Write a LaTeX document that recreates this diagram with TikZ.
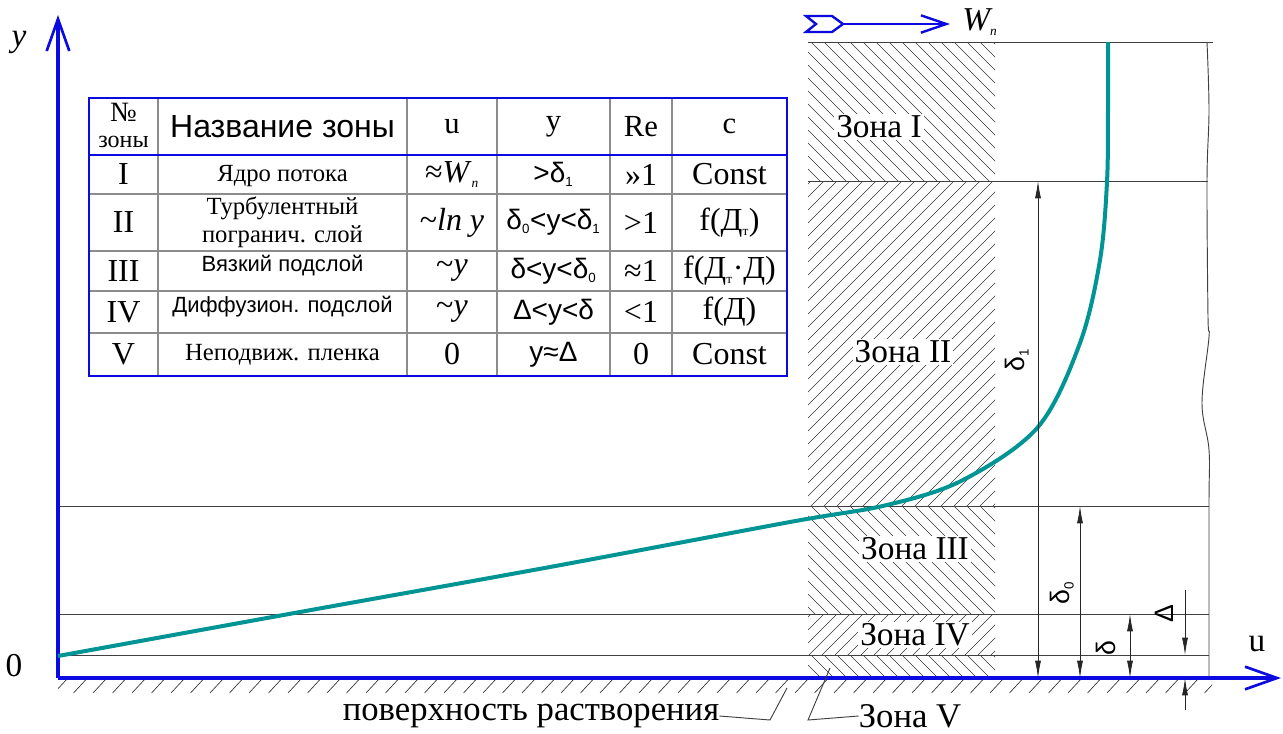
\documentclass[tikz,border=0pt]{standalone}
\usepackage{fontspec}
\setmainfont{Liberation Serif}
\setsansfont{Liberation Sans}
\usetikzlibrary{arrows.meta}

\definecolor{axblue}{RGB}{10,10,225}
\definecolor{profteal}{RGB}{0,148,148}
\newcommand\lsub[1]{\textsubscript{\fontsize{10}{10}\selectfont#1}}

\begin{document}
\begin{tikzpicture}[x=0.75pt, y=-0.75pt,
    axis/.style={draw=axblue, line width=2.3pt, -{Straight Barb[length=24pt,width=17pt,line width=2pt]}},
    hline/.style={draw=black!75, line width=0.7pt},
    hatch/.style={draw=black!80, line width=0.5pt},
    dim/.style={draw=black!85, line width=0.6pt},
    dimarr/.style={dim, {Latex[length=13pt,width=4.5pt]}-{Latex[length=13pt,width=4.5pt]}},
    tblin/.style={draw=black!45, line width=0.8pt},
    tblout/.style={draw=axblue, line width=2pt},
    big/.style={font=\fontsize{24}{26}\selectfont, inner sep=0pt},
    hdr/.style={font=\fontsize{23}{25}\selectfont, inner sep=0pt},
    zname/.style={font=\fontsize{18.5}{21}\selectfont, align=center, inner sep=0pt},
    sfval/.style={font=\sffamily\fontsize{21}{23}\selectfont, inner sep=0pt},
    zlbl/.style={font=\fontsize{25}{27}\selectfont, fill=white, inner sep=1.5pt},
    dimlbl/.style={font=\sffamily\fontsize{20}{22}\selectfont, rotate=90, inner sep=0pt},
    lbl/.style={font=\fontsize{25}{27}\selectfont, inner sep=0pt}]
  \useasboundingbox (0,0) rectangle (1283,733);

  % hatched zones of the boundary layer
  \foreach \ya/\yb/\d in {42/181/1, 181/506/-1, 506/614/1, 614/655/-1, 655/678/1} {
    \begin{scope}
      \clip (808,\ya) rectangle (995,\yb);
      \foreach \k in {0,...,112}
        \draw[hatch] ({96+13*\k-\d*400},{\ya-400}) -- ({96+13*\k+\d*400},{\ya+400});
    \end{scope}
  }
  % ground hatch
  \begin{scope}
    \clip (58,679) rectangle (1212,695);
    \foreach \x in {54,73.5,...,1210}
      \draw[hatch] (\x,693) -- ++(13,-14);
  \end{scope}

  % zone borders
  \draw[hline] (808,42) -- (1213,42);
  \draw[hline] (808,181) -- (1208,181);
  \foreach \y in {506,614,655}
    \draw[hline] (58,\y) -- (1209,\y);
  \draw[hline] plot[smooth, tension=0.6] coordinates {(1207,42) (1209,110) (1207,181) (1208,317) (1209,337) (1202,403) (1209,450) (1209,506) (1209,678)};

  % axes
  \coordinate (O) at (58,678);
  \coordinate (ytip) at (58,15);
  \coordinate (xtip) at (1281,678);
  \draw[axis] (O) -- (ytip);
  \draw[axis] (O) -- (xtip);
  \node[lbl, font=\fontsize{25}{27}\selectfont\itshape] (ylbl) at (19,42) {y};
  \node[lbl] (ulbl) at (1257,644) {u};
  \node[lbl] (zero) at (14,666) {0};

  % velocity profile
  \draw[profteal, line width=3pt] plot[smooth, tension=0.55] coordinates {(58,656) (300,612) (550,567) (790,522) (887,505) (963,480) (1038,427) (1080,343) (1100,260) (1107,182) (1108,110) (1108,42)};

  % zone labels
  \node[zlbl] (zI) at (879,127) {Зона I};
  \node[zlbl] (zII) at (903,352) {Зона II};
  \node[zlbl] (zIII) at (915,549) {Зона III};
  \node[zlbl] (zIV) at (915,635) {Зона IV};

  % flow arrow
  \coordinate (wtail) at (843,24);
  \coordinate (whead) at (950,24);
  \draw[axblue, line width=1.8pt, line join=miter] (806,16) -- (832,16) -- (843,24) -- (832,32) -- (806,32) -- (816,24) -- cycle;
  \draw[draw=axblue, line width=1.8pt, -{Straight Barb[length=19pt,width=13pt,line width=1.8pt]}] (wtail) -- (whead);
  \node[lbl, font=\fontsize{25}{27}\selectfont\itshape] (wlbl) at (980,22) {W\lsub{п}};

  % dimensions
  \coordinate (d1t) at (1038,181); \coordinate (d1b) at (1038,678);
  \coordinate (d0t) at (1080,506); \coordinate (d0b) at (1080,678);
  \coordinate (dt) at (1130,614);  \coordinate (db) at (1130,678);
  \coordinate (Dt) at (1185,590);  \coordinate (Dm) at (1185,655);
  \coordinate (Dl) at (1185,710);  \coordinate (Dg) at (1185,678);
  \draw[dimarr] (d1t) -- (d1b);
  \draw[dimarr] (d0t) -- (d0b);
  \draw[dimarr] (dt) -- (db);
  \draw[dim, -{Latex[length=13pt,width=4.5pt]}] (Dt) -- (Dm);
  \draw[dim, -{Latex[length=13pt,width=4.5pt]}] (Dl) -- (Dg);
  \node[dimlbl] (l1) at (1017,360) {δ\lsub{1}};
  \node[dimlbl] (l0) at (1062,593) {δ\lsub{0}};
  \node[dimlbl] (ld) at (1106,648) {δ};
  \node[dimlbl] (lD) at (1164,614) {Δ};

  % bottom labels
  \node[lbl, font=\fontsize{26}{28}\selectfont] (surf) at (531,716) {поверхность растворения};
  \draw[hline] (surf.east) -- (770,720) -- (787,688);
  \node[lbl, font=\fontsize{26}{28}\selectfont] (z5) at (910,716) {Зона V};
  \draw[hline] (z5.west) -- (808,720) -- (830,668);

  % table
  \fill[white] (89,98) rectangle (787,376);
  \foreach \x in {158,407,497,610,672}
    \draw[tblin] (\x,98) -- (\x,376);
  \foreach \y in {194,251,291,333}
    \draw[tblin] (89,\y) -- (787,\y);
  \draw[tblout] (89,98) rectangle (787,376);
  \draw[tblout] (89,155) -- (787,155);

  \node[inner sep=0pt, font=\fontsize{21}{23}\selectfont] (hnum) at (123.5,112) {№};
  \node[inner sep=0pt, font=\fontsize{18}{20}\selectfont] (hzon) at (123.5,142) {зоны};
  \node[hdr, font=\sffamily\fontsize{24}{26}\selectfont] (hname) at (282.5,126.5) {Название зоны};
  \node[hdr] (hu) at (452,126.5) {u};
  \node[hdr] (hy) at (553.5,126.5) {y};
  \node[hdr] (hre) at (641,126.5) {Re};
  \node[hdr] (hc) at (729.5,126.5) {c};

  \node[big] (n1) at (123.5,174.5) {I};
  \node[zname] (m1) at (282.5,176) {Ядро потока};
  \node[big] (u1) at (452,174.5) {≈\textit{W}\lsub{\textit{п}}};
  \node[sfval] (y1) at (553.5,174.5) {>δ\lsub{1}};
  \node[big] (re1) at (641,174.5) {»1};
  \node[big] (c1) at (729.5,174.5) {Const};

  \node[big] (n2) at (123.5,222.5) {II};
  \node[zname] (m2) at (282.5,222.5) {Турбулентный\\погранич. слой};
  \node[big] (u2) at (452,222.5) {\textasciitilde\textit{ln y}};
  \node[sfval] (y2) at (553.5,222.5) {δ\lsub{0}<y<δ\lsub{1}};
  \node[big] (re2) at (641,222.5) {>1};
  \node[big] (c2) at (729.5,222.5) {f(Д\lsub{т})};

  \node[big] (n3) at (123.5,271) {III};
  \node[zname, font=\sffamily\fontsize{16.5}{20}\selectfont] (m3) at (282.5,266) {Вязкий подслой};
  \node[big] (u3) at (452,271) {\textasciitilde\textit{y}};
  \node[sfval] (y3) at (553.5,271) {δ<y<δ\lsub{0}};
  \node[big] (re3) at (641,271) {≈1};
  \node[big] (c3) at (729.5,271) {f(Д\lsub{т}·Д)};

  \node[big] (n4) at (123.5,312) {IV};
  \node[zname, font=\sffamily\fontsize{16.5}{20}\selectfont] (m4) at (282.5,307) {Диффузион. подслой};
  \node[big] (u4) at (452,312) {\textasciitilde\textit{y}};
  \node[sfval] (y4) at (553.5,312) {Δ<y<δ};
  \node[big] (re4) at (641,312) {<1};
  \node[big] (c4) at (729.5,312) {f(Д)};

  \node[big] (n5) at (123.5,354.5) {V};
  \node[zname] (m5) at (282.5,355) {Неподвиж. пленка};
  \node[big] (u5) at (452,354.5) {0};
  \node[sfval] (y5) at (553.5,354.5) {y≈Δ};
  \node[big] (re5) at (641,354.5) {0};
  \node[big] (c5) at (729.5,354.5) {Const};
\end{tikzpicture}
\end{document}
